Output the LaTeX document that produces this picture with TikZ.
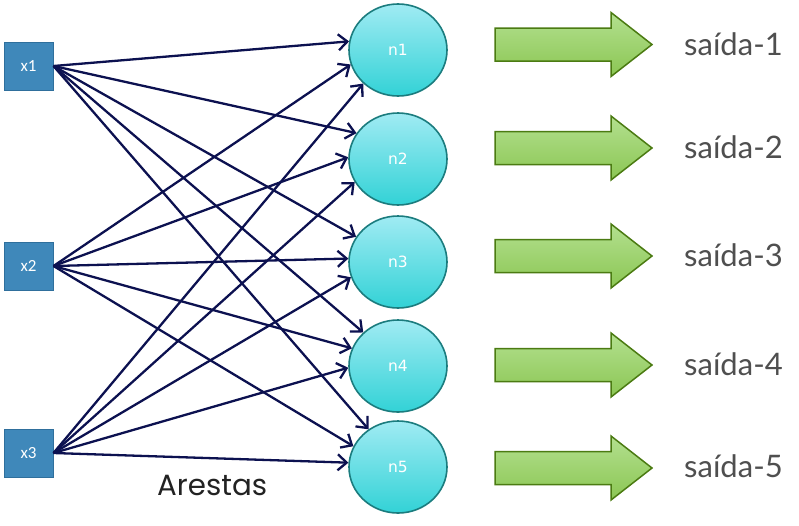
\documentclass[tikz,border=0pt]{standalone}
\usepackage{fontspec}
\setmainfont{Lato}
\newfontfamily\arfont{Poppins}
\newfontfamily\nfont{DejaVu Sans}
\newfontfamily\xfont{Carlito}
\usetikzlibrary{shapes.geometric,arrows.meta}
\definecolor{boxfill}{HTML}{3F88BA}
\definecolor{boxborder}{HTML}{2F6F9C}
\definecolor{neutop}{HTML}{A0EBF3}
\definecolor{neubot}{HTML}{32D2D6}
\definecolor{neuborder}{HTML}{1B7C7E}
\definecolor{edgecol}{HTML}{0C1150}
\definecolor{arrtop}{HTML}{B3E08F}
\definecolor{arrbot}{HTML}{8BC653}
\definecolor{arrborder}{HTML}{4B7B12}
\definecolor{labgray}{HTML}{4F4F4F}
\definecolor{artext}{HTML}{222222}
\begin{document}
\begin{tikzpicture}[x=1pt,y=-1pt,
 inbox/.style={rectangle, draw=boxborder, fill=boxfill, line width=1pt, minimum width=49pt, minimum height=48pt, inner sep=0pt, text=white, font=\xfont\fontsize{17}{17}\selectfont},
 neuron/.style={ellipse, draw=neuborder, line width=1.6pt, top color=neutop, bottom color=neubot, minimum width=98pt, minimum height=92pt, inner sep=0pt, text=white, font=\nfont\fontsize{15.5}{15.5}\selectfont},
 edge/.style={draw=edgecol, line width=2.3pt, -{Straight Barb[length=9pt,width=16pt]}},
 outarrow/.style={draw=arrborder, line width=1.5pt, top color=arrtop, bottom color=arrbot, line join=miter},
 outlabel/.style={anchor=base west, text=labgray, font=\fontsize{31}{31}\selectfont, inner sep=0pt}
]
\useasboundingbox (0,0) rectangle (799,525);

\node[inbox] (x1) at (28.5,66) {x1};
\node[inbox] (x2) at (28.5,266) {x2};
\node[inbox] (x3) at (28.5,453) {x3};

\node[neuron] (n1) at (398,50) {n1};
\node[neuron] (n2) at (398,159) {n2};
\node[neuron] (n3) at (398,262) {n3};
\node[neuron] (n4) at (398,366) {n4};
\node[neuron] (n5) at (398,467) {n5};

\draw[edge] (x1.east) -- (n1.170);
\draw[edge] (x1.east) -- (n2.148);
\draw[edge] (x1.east) -- (n3.149);
\draw[edge] (x1.east) -- (n4.136);
\draw[edge] (x1.east) -- (n5.128);

\draw[edge] (x2.east) -- (n1.197);
\draw[edge] (x2.east) -- (n2.178);
\draw[edge] (x2.east) -- (n3.176);
\draw[edge] (x2.east) -- (n4.159);
\draw[edge] (x2.east) -- (n5.155);

\draw[edge] (x3.east) -- (n1.224);
\draw[edge] (x3.east) -- (n2.208);
\draw[edge] (x3.east) -- (n3.198);
\draw[edge] (x3.east) -- (n4.182);
\draw[edge] (x3.east) -- (n5.175);

\foreach \c in {44.5,148,256,365,468}{
  \path[outarrow] (495,\c-16.5) -- (611,\c-16.5) -- (611,\c-32) -- (652,\c) -- (611,\c+32) -- (611,\c+16.5) -- (495,\c+16.5) -- cycle;
}
\node[outlabel] (s1) at (684,55) {saída-1};
\node[outlabel] (s2) at (684,158.5) {saída-2};
\node[outlabel] (s3) at (684,266.5) {saída-3};
\node[outlabel] (s4) at (684,375) {saída-4};
\node[outlabel] (s5) at (684,477) {saída-5};

\node[anchor=base west, inner sep=0pt, text=artext, font=\arfont\fontsize{29.3}{29.3}\selectfont] (ar) at (157,495) {Arestas};
\end{tikzpicture}
\end{document}
